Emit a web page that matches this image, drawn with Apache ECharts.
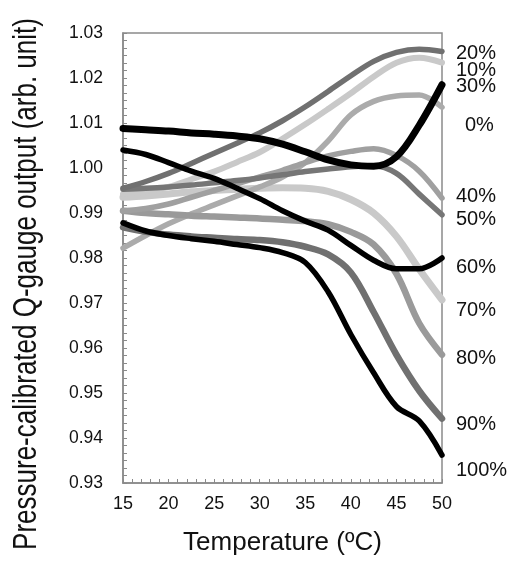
<!DOCTYPE html>
<html><head><meta charset="utf-8">
<script src="https://cdn.jsdelivr.net/npm/echarts@6/dist/echarts.min.js"></script>
<style>html,body{margin:0;padding:0;background:#fff}#c{width:508px;height:561px}</style>
</head><body><div id="c"></div>
<script>
// Temperature (ºC) sample points
const temps = [15, 17.5, 20, 22.5, 25, 27.5, 30, 32.5, 35, 37.5, 40, 42.5, 45, 47.5, 50];
// Series values (arb. unit)
const v0   = [1.0088, 1.0085, 1.0082, 1.0078, 1.0075, 1.0071, 1.0065, 1.0053, 1.0036, 1.0018, 1.0007, 1.0004, 1.0025, 1.0095, 1.0185];
const v10  = [0.9942, 0.9948, 0.9958, 0.9975, 0.9992, 1.0013, 1.0035, 1.0065, 1.0097, 1.0131, 1.0166, 1.0203, 1.0234, 1.0245, 1.0234];
const v20  = [0.9955, 0.9970, 0.9988, 1.0010, 1.0033, 1.0055, 1.0078, 1.0105, 1.0136, 1.0170, 1.0205, 1.0237, 1.0257, 1.0264, 1.0259];
const v30  = [0.9822, 0.9850, 0.9876, 0.9898, 0.9918, 0.9938, 0.9958, 0.9980, 1.0012, 1.0060, 1.0118, 1.0148, 1.0160, 1.0162, 1.0135];
const v40  = [0.9905, 0.9910, 0.9920, 0.9935, 0.9950, 0.9965, 0.9980, 0.9995, 1.0012, 1.0027, 1.0037, 1.0043, 1.0028, 0.9993, 0.9933];
const v50  = [0.9953, 0.9955, 0.9958, 0.9962, 0.9967, 0.9972, 0.9978, 0.9985, 0.9992, 0.9998, 1.0003, 1.0005, 0.9988, 0.9942, 0.9896];
const v60  = [1.0040, 1.0030, 1.0012, 0.9993, 0.9977, 0.9955, 0.9932, 0.9905, 0.9882, 0.9862, 0.9828, 0.9795, 0.9776, 0.9776, 0.9800];
const v70  = [0.9935, 0.9938, 0.9942, 0.9947, 0.9950, 0.9953, 0.9955, 0.9956, 0.9955, 0.9948, 0.9930, 0.9900, 0.9848, 0.9775, 0.9707];
const v80  = [0.9905, 0.9900, 0.9897, 0.9894, 0.9892, 0.9890, 0.9888, 0.9885, 0.9882, 0.9875, 0.9858, 0.9830, 0.9765, 0.9655, 0.9585];
const v90  = [0.9868, 0.9858, 0.9852, 0.9848, 0.9845, 0.9842, 0.9840, 0.9835, 0.9825, 0.9808, 0.9768, 0.9680, 0.9585, 0.9505, 0.9443];
const v100 = [0.9878, 0.9860, 0.9850, 0.9843, 0.9837, 0.9830, 0.9823, 0.9812, 0.9790, 0.9725, 0.9630, 0.9545, 0.9470, 0.9438, 0.9362];
// Right-side labels (top to bottom)
const rightLabels = ['20%', '10%', '30%', '0%', '40%', '50%', '60%', '70%', '80%', '90%', '100%'];
const xTitle = 'Temperature (ºC)';
const yTitle = 'Pressure-calibrated Q-gauge output (arb. unit)';

// draw order (light first, black last) with styles
const seriesDefs = [
  {name: '70%', vals: v70, color: '#c9c9c9', w: 7},
  {name: '10%', vals: v10, color: '#c9c9c9', w: 6},
  {name: '30%', vals: v30, color: '#ababab', w: 5.5},
  {name: '80%', vals: v80, color: '#9a9a9a', w: 6.5},
  {name: '40%', vals: v40, color: '#a0a0a0', w: 5.5},
  {name: '90%', vals: v90, color: '#707070', w: 6.5},
  {name: '50%', vals: v50, color: '#767676', w: 5.5},
  {name: '20%', vals: v20, color: '#707070', w: 5.5},
  {name: '100%', vals: v100, color: '#000000', w: 5.5},
  {name: '60%', vals: v60, color: '#000000', w: 5.5},
  {name: '0%', vals: v0, color: '#000000', w: 7}
];

// label layout (pixel y centres)
const labelY = [53, 70, 86, 125, 196, 219, 267, 310, 358, 424, 470];

const chart = echarts.init(document.getElementById('c'), null, {renderer: 'canvas'});
const font = 'Liberation Sans, Arial, Helvetica, sans-serif';
const option = {
  animation: false,
  backgroundColor: '#fff',
  grid: {left: 123, right: 66, top: 33, bottom: 73, show: true, borderColor: '#8a8a8a', borderWidth: 1.5, backgroundColor: 'transparent'},
  xAxis: {
    type: 'value', min: 15, max: 50, interval: 5,
    name: xTitle, nameLocation: 'middle', nameGap: 47,
    nameTextStyle: {fontSize: 26, color: '#111', fontFamily: font},
    axisLine: {show: true, lineStyle: {color: '#8a8a8a', width: 1.5}},
    axisTick: {show: true, inside: true, length: 4, lineStyle: {color: '#8a8a8a'}},
    minorTick: {show: true, splitNumber: 5, length: 4, lineStyle: {color: '#8a8a8a'}},
    axisLabel: {fontSize: 18, color: '#111', margin: 12, fontFamily: font},
    splitLine: {show: false}
  },
  yAxis: {
    type: 'value', min: 0.93, max: 1.03, interval: 0.01,
    axisLine: {show: true, lineStyle: {color: '#8a8a8a', width: 1.5}},
    axisTick: {show: true, inside: true, length: 4, lineStyle: {color: '#8a8a8a'}},
    minorTick: {show: true, splitNumber: 6, length: 4, lineStyle: {color: '#8a8a8a'}},
    axisLabel: {fontSize: 17.5, color: '#111', margin: 20, fontFamily: font, formatter: v => v.toFixed(2)},
    splitLine: {show: false}
  },
  series: seriesDefs.map(d => ({
    name: d.name, type: 'line', showSymbol: false, smooth: 0.35,
    data: temps.map((t, i) => [t, d.vals[i]]),
    lineStyle: {color: d.color, width: d.w, cap: 'round', join: 'round'},
    itemStyle: {color: d.color},
    emphasis: {disabled: true}
  })),
  graphic: [
    {
      type: 'text', x: 27.5, y: 284, rotation: Math.PI / 2, scaleY: 1.25,
      style: {text: yTitle, fontSize: 26, fontFamily: font, fill: '#111', align: 'center', verticalAlign: 'middle'}
    }
  ].concat(rightLabels.map((t, i) => ({
    type: 'text', x: t === '0%' ? 465 : 456, y: labelY[i],
    style: {text: t, fontSize: 20, fontFamily: font, fill: '#111', align: 'left', verticalAlign: 'middle'}
  })))
};
chart.setOption(option);
</script></body></html>
